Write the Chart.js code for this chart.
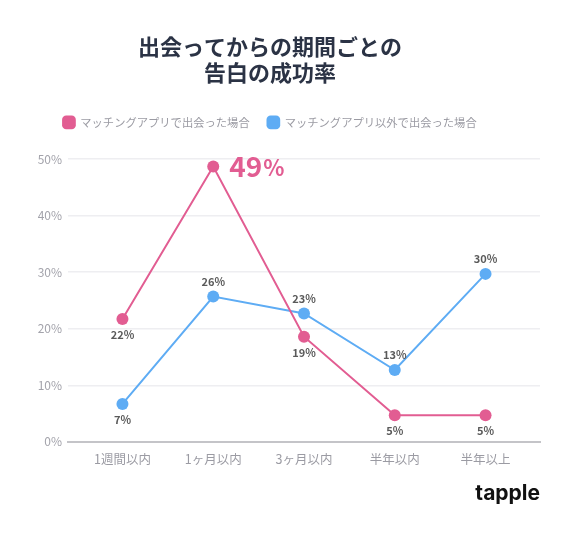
<!DOCTYPE html>
<html>
<head>
<meta charset="utf-8">
<script src="https://cdn.jsdelivr.net/npm/chart.js@4"></script>
<style>
  html, body { margin: 0; padding: 0; background: #fff; }
  #wrap { width: 575px; height: 533px; }
</style>
</head>
<body>
<div id="wrap"><canvas id="myLineChart"></canvas></div>
<script>
var categories = ["1週間以内", "1ヶ月以内", "3ヶ月以内", "半年以内", "半年以上"];
var appValues = [21.7, 48.7, 18.6, 4.7, 4.7];
var otherValues = [6.7, 25.7, 22.7, 12.7, 29.7];
var yTicks = [0, 10, 20, 30, 40, 50];

var PINK = '#e25d92';
var BLUE = '#5eacf4';
var FONT = '"Noto Sans CJK JP", "Noto Sans", sans-serif';

// where each value label sits: 'below', 'above' or 'big' (the highlighted one)
var labelPlace = [
    ['below', 'big', 'below', 'below', 'below'],
    ['below', 'above', 'above', 'above', 'above']
];

var valueLabels = {
    id: 'valueLabels',
    afterDatasetsDraw: function(chart) {
        var ctx = chart.ctx;
        ctx.save();
        chart.data.datasets.forEach(function(ds, di) {
            var meta = chart.getDatasetMeta(di);
            meta.data.forEach(function(pt, i) {
                var txt = Math.round(ds.data[i].y);
                var place = labelPlace[di][i];
                if (place === 'big') {
                    ctx.fillStyle = PINK;
                    ctx.textBaseline = 'middle';
                    ctx.textAlign = 'left';
                    ctx.font = 'bold 28px ' + FONT;
                    ctx.fillText(String(txt), pt.x + 16, pt.y);
                    var w = ctx.measureText(String(txt)).width;
                    ctx.font = 'bold 22px ' + FONT;
                    ctx.fillText('%', pt.x + 16 + w + 1, pt.y + 1);
                } else {
                    ctx.fillStyle = '#5a5a5a';
                    ctx.textAlign = 'center';
                    ctx.textBaseline = 'middle';
                    ctx.font = 'bold 11px ' + FONT;
                    ctx.fillText(txt + '%', pt.x, place === 'above' ? pt.y - 15 : pt.y + 16);
                }
            });
        });
        ctx.restore();
    }
};

// extra room under the legend
var legendMargin = {
    id: 'legendMargin',
    beforeInit: function(chart) {
        var fit = chart.legend.fit;
        chart.legend.fit = function() {
            fit.bind(chart.legend)();
            this.height += 21;
        };
    }
};

var ctx = document.getElementById("myLineChart");

new Chart(ctx, {
    type: 'line',
    data: {
        datasets: [{
            label: 'マッチングアプリで出会った場合',
            data: appValues.map(function(v, i) { return {x: i, y: v}; }),
            borderColor: PINK,
            backgroundColor: PINK,
            borderWidth: 2,
            pointRadius: 6,
            pointBorderWidth: 0,
            pointStyle: 'circle',
            tension: 0
        }, {
            label: 'マッチングアプリ以外で出会った場合',
            data: otherValues.map(function(v, i) { return {x: i, y: v}; }),
            borderColor: BLUE,
            backgroundColor: BLUE,
            borderWidth: 2,
            pointRadius: 6,
            pointBorderWidth: 0,
            pointStyle: 'circle',
            tension: 0
        }]
    },
    options: {
        responsive: true,
        maintainAspectRatio: false,
        animation: false,
        layout: { padding: { left: 0, right: 35, top: 0, bottom: 0 } },
        scales: {
            x: {
                type: 'linear',
                min: -0.6,
                max: 4.6,
                afterBuildTicks: function(scale) {
                    scale.ticks = categories.map(function(c, i) { return {value: i}; });
                },
                ticks: {
                    callback: function(v) { return categories[v]; },
                    color: '#9b9ba3',
                    font: { family: FONT, size: 12.5 },
                    padding: 2,
                    maxRotation: 0
                },
                grid: { display: false },
                border: { color: '#c4c4c8', width: 2 }
            },
            y: {
                min: 0,
                max: 50,
                afterBuildTicks: function(scale) {
                    scale.ticks = yTicks.map(function(v) { return {value: v}; });
                },
                afterFit: function(scale) { scale.width = 68; },
                ticks: {
                    callback: function(v) { return v + '%'; },
                    color: '#a3a3ab',
                    font: { family: FONT, size: 12 },
                    padding: 6
                },
                grid: { color: '#eeeef1', lineWidth: 1.5, drawTicks: false },
                border: { display: false }
            }
        },
        plugins: {
            title: {
                display: true,
                text: ['出会ってからの期間ごとの', '告白の成功率'],
                color: '#2b3345',
                font: { family: FONT, size: 22, weight: 'bold', lineHeight: 1.2 },
                padding: { top: 33, bottom: 13 }
            },
            subtitle: {
                display: true,
                position: 'bottom',
                align: 'end',
                text: 'tapple',
                color: '#111',
                font: { family: '"Inter", "Lato", sans-serif', size: 21, weight: 'bold' },
                padding: { top: 12, bottom: 27 }
            },
            legend: {
                position: 'top',
                labels: {
                    usePointStyle: true,
                    pointStyle: 'rectRounded',
                    boxWidth: 13,
                    boxHeight: 13,
                    padding: 18,
                    color: '#9b9ba3',
                    font: { family: FONT, size: 11.3 }
                }
            },
            tooltip: { enabled: false }
        }
    },
    plugins: [valueLabels, legendMargin]
});
</script>
</body>
</html>
